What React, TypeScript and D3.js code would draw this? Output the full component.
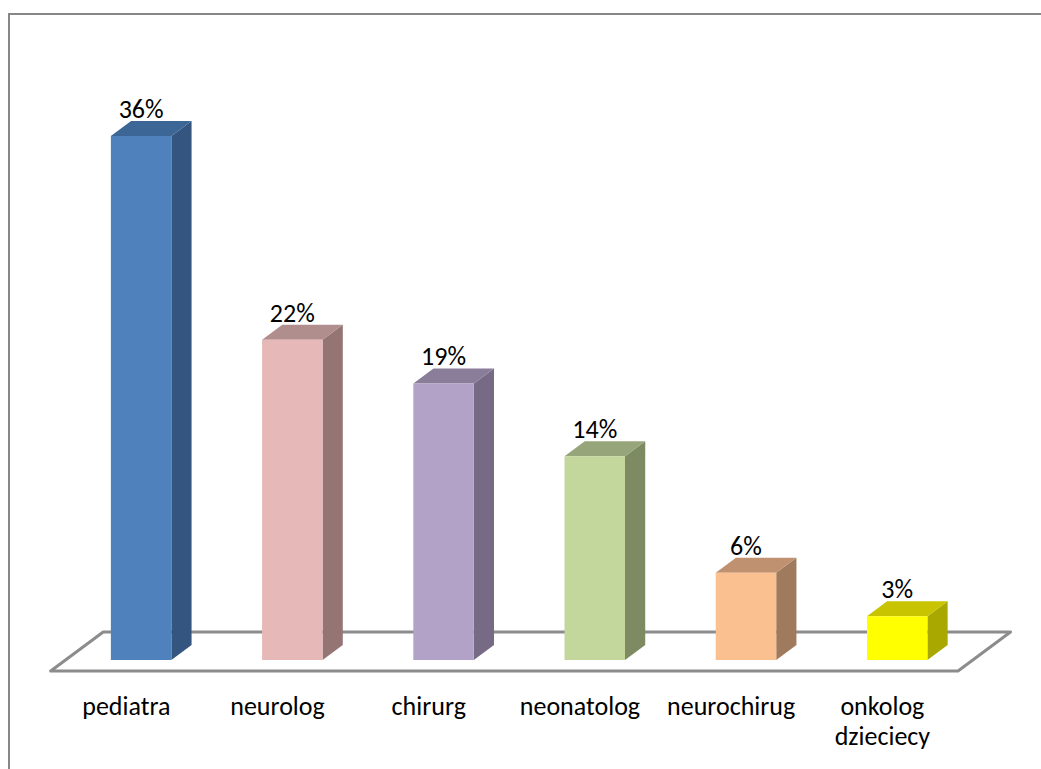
import React from "react";
import * as d3 from "d3";

const categories: string[][] = [
  ["pediatra"],
  ["neurolog"],
  ["chirurg"],
  ["neonatolog"],
  ["neurochirug"],
  ["onkolog", "dzieciecy"],
];
const values: number[] = [36, 22, 19, 14, 6, 3];
const valueLabels: string[] = ["36%", "22%", "19%", "14%", "6%", "3%"];
const frontColors = ["#4F81BD", "#E6B9B8", "#B3A2C7", "#C3D69B", "#FAC090", "#FFFF00"];
const topColors = ["#3C6696", "#B08E8D", "#8A7D9A", "#97A67A", "#C09170", "#C8C400"];
const sideColors = ["#33557F", "#947574", "#766A84", "#7E8A62", "#A07A5C", "#A8A800"];

const W = 1041;
const H = 769;

export default function App() {
  const floorLeft = 50.7;
  const floorRight = 958;
  const floorFrontY = 671;
  const depthX = 52.5;
  const depthY = -39;
  const t0 = 0.282;
  const t1 = 0.667;

  const x = d3
    .scaleBand<number>()
    .domain(d3.range(values.length))
    .range([floorLeft, floorRight])
    .paddingInner(0.6)
    .paddingOuter(0.3);

  const baseY = floorFrontY + depthY * t0; // 660
  const y = d3.scaleLinear().domain([0, 36]).range([baseY, 136]);

  const bdx = depthX * (t1 - t0);
  const bdy = depthY * (t1 - t0);
  const offX = depthX * t0;

  const floorPts = [
    [floorLeft, floorFrontY],
    [floorRight, floorFrontY],
    [floorRight + depthX, floorFrontY + depthY],
    [floorLeft + depthX, floorFrontY + depthY],
  ];

  const font = "Carlito, Calibri, Lato, 'Liberation Sans', sans-serif";

  return (
    <svg
      width={W}
      height={H}
      style={{ position: "absolute", left: 0, top: 0, display: "block" }}
    >
      <rect x={0} y={0} width={W} height={H} fill="#ffffff" />
      <rect x={9} y={14} width={1100} height={900} fill="none" stroke="#878787" strokeWidth={2} />
      <polygon
        points={floorPts.map((p) => p.join(",")).join(" ")}
        fill="#ffffff"
        stroke="#8C8C8C"
        strokeWidth={3}
        strokeLinejoin="round"
      />
      {values.map((v, i) => {
        const x0 = (x(i) as number) + offX;
        const w = x.bandwidth();
        const yt = y(v);
        const front = `M${x0},${baseY}L${x0 + w},${baseY}L${x0 + w},${yt}L${x0},${yt}Z`;
        const top = `M${x0},${yt}L${x0 + bdx},${yt + bdy}L${x0 + w + bdx},${yt + bdy}L${x0 + w},${yt}Z`;
        const side = `M${x0 + w},${baseY}L${x0 + w + bdx},${baseY + bdy}L${x0 + w + bdx},${yt + bdy}L${x0 + w},${yt}Z`;
        return (
          <g key={i}>
            <path d={side} fill={sideColors[i]} />
            <path d={top} fill={topColors[i]} />
            <path d={front} fill={frontColors[i]} />
            <text
              x={x0 + w / 2}
              y={yt - 18}
              textAnchor="middle"
              fontFamily={font}
              fontSize={26}
              fill="#000"
            >
              {valueLabels[i]}
            </text>
          </g>
        );
      })}
      {categories.map((lines, i) => (
        <text
          key={i}
          x={(x(i) as number) + x.bandwidth() / 2}
          y={715}
          textAnchor="middle"
          fontFamily={font}
          fontSize={26}
          fill="#000"
        >
          {lines.map((l, j) => (
            <tspan key={j} x={(x(i) as number) + x.bandwidth() / 2} dy={j === 0 ? 0 : 30}>
              {l}
            </tspan>
          ))}
        </text>
      ))}
    </svg>
  );
}
